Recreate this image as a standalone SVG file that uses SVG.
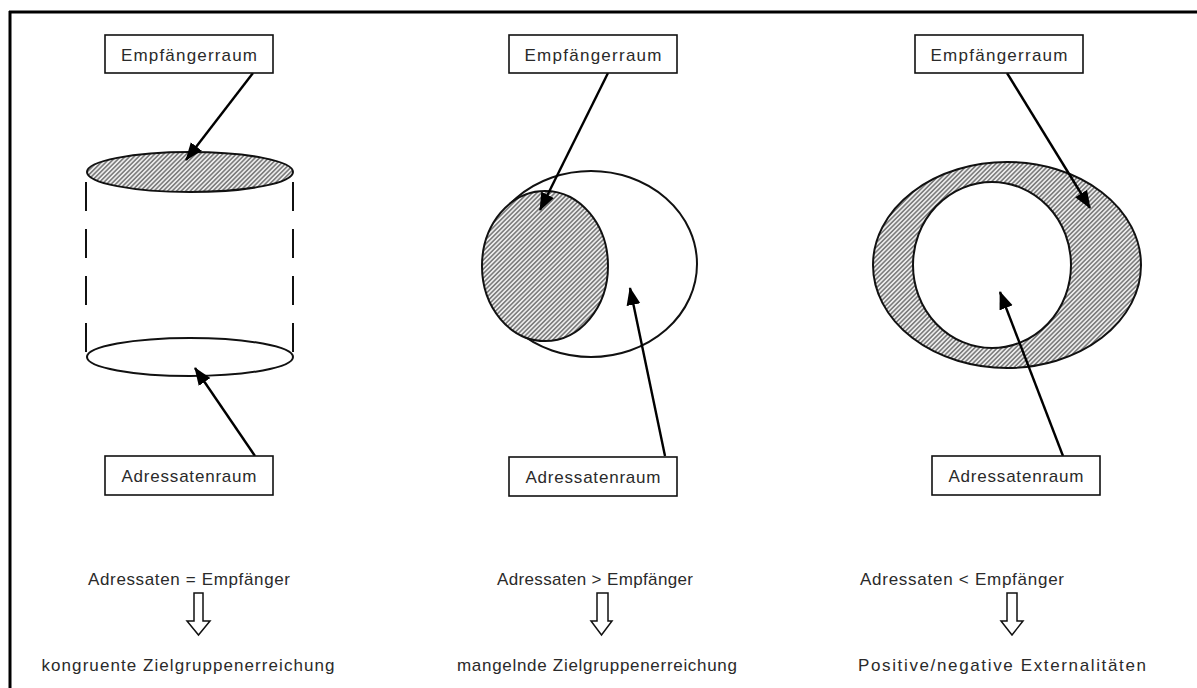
<svg xmlns="http://www.w3.org/2000/svg" width="1197" height="688" viewBox="0 0 1197 688">
<style>
text{font-family:"Liberation Sans",Arial,sans-serif;font-size:17px;fill:#2a2a2a;}
.box{fill:#fff;stroke:#111;stroke-width:1.6;}
.shape{stroke:#111;stroke-width:2;}
.conn{stroke:#000;stroke-width:2.4;fill:none;marker-end:url(#ah);}
.hollow{fill:#fff;stroke:#111;stroke-width:1.5;}
.dash{stroke:#111;stroke-width:2;stroke-dasharray:29 18;}
</style>
<defs>
<pattern id="hatch" width="3.2" height="3.2" patternUnits="userSpaceOnUse" patternTransform="rotate(45)">
<rect width="3.2" height="3.2" fill="#ececec"/>
<line x1="0.8" y1="0" x2="0.8" y2="3.2" stroke="#777" stroke-width="1.5"/>
</pattern>
<marker id="ah" markerUnits="userSpaceOnUse" markerWidth="20" markerHeight="16" refX="17" refY="7" orient="auto">
<path d="M0,0 L18,7 L0,14 z" fill="#000"/>
</marker>
</defs>
<g id="frame">
<line x1="9" y1="12" x2="1197" y2="12" stroke="#000" stroke-width="3"/>
<line x1="10" y1="11" x2="10" y2="688" stroke="#000" stroke-width="3"/>
</g>
<g id="col1-shapes">
<line class="dash" x1="86" y1="182" x2="86" y2="357"/>
<line class="dash" x1="293" y1="182" x2="293" y2="357"/>
<ellipse class="shape" cx="190" cy="172" rx="103" ry="20" fill="url(#hatch)"/>
<ellipse class="shape" cx="190" cy="357" rx="103" ry="19" fill="#fff"/>
</g>
<g id="col2-shapes">
<ellipse class="shape" cx="591" cy="264" rx="106" ry="93" fill="#fff"/>
<ellipse class="shape" cx="545" cy="266" rx="63" ry="75" fill="url(#hatch)"/>
</g>
<g id="col3-shapes">
<ellipse class="shape" cx="1007" cy="265" rx="134" ry="103" fill="url(#hatch)"/>
<ellipse class="shape" cx="992" cy="265" rx="79" ry="83" fill="#fff"/>
</g>
<g id="connectors">
<line class="conn" x1="253" y1="73" x2="186" y2="160"/>
<line class="conn" x1="255" y1="456" x2="195" y2="368"/>
<line class="conn" x1="608" y1="73" x2="540" y2="210"/>
<line class="conn" x1="665" y1="456" x2="630" y2="288"/>
<line class="conn" x1="1007" y1="73" x2="1090" y2="208"/>
<line class="conn" x1="1063" y1="456" x2="1000" y2="292"/>
</g>
<g id="empf1"><rect class="box" x="105" y="35" width="168" height="38"/><text x="189" y="61" text-anchor="middle" textLength="136" lengthAdjust="spacing">Empfängerraum</text></g>
<g id="empf2"><rect class="box" x="509" y="35" width="168" height="38"/><text x="593" y="61" text-anchor="middle" textLength="137" lengthAdjust="spacing">Empfängerraum</text></g>
<g id="empf3"><rect class="box" x="915" y="35" width="168" height="38"/><text x="999" y="61" text-anchor="middle" textLength="137" lengthAdjust="spacing">Empfängerraum</text></g>
<g id="adr1"><rect class="box" x="105" y="456" width="168" height="39"/><text x="189" y="482" text-anchor="middle" textLength="135" lengthAdjust="spacing">Adressatenraum</text></g>
<g id="adr2"><rect class="box" x="509" y="457" width="168" height="39"/><text x="593" y="483" text-anchor="middle" textLength="135" lengthAdjust="spacing">Adressatenraum</text></g>
<g id="adr3"><rect class="box" x="932" y="456" width="168" height="39"/><text x="1016" y="482" text-anchor="middle" textLength="135" lengthAdjust="spacing">Adressatenraum</text></g>
<g id="res1">
<text x="189" y="585" text-anchor="middle" textLength="202" lengthAdjust="spacing">Adressaten = Empfänger</text>
<polygon class="hollow" points="194,593 203,593 203,621 210,621 198.5,635 187,621 194,621"/>
<text x="188" y="671" text-anchor="middle" textLength="293" lengthAdjust="spacing">kongruente Zielgruppenerreichung</text>
</g>
<g id="res2">
<text x="595" y="585" text-anchor="middle" textLength="196" lengthAdjust="spacing">Adressaten &gt; Empfänger</text>
<polygon class="hollow" points="597,593 608,593 608,621 612,621 601.5,635 591,621 597,621"/>
<text x="597" y="671" text-anchor="middle" textLength="280" lengthAdjust="spacing">mangelnde Zielgruppenerreichung</text>
</g>
<g id="res3">
<text x="962" y="585" text-anchor="middle" textLength="204" lengthAdjust="spacing">Adressaten &lt; Empfänger</text>
<polygon class="hollow" points="1007,593 1017,593 1017,621 1023,621 1012,635 1001,621 1007,621"/>
<text x="1002" y="671" text-anchor="middle" textLength="288" lengthAdjust="spacing">Positive/negative Externalitäten</text>
</g>
</svg>
